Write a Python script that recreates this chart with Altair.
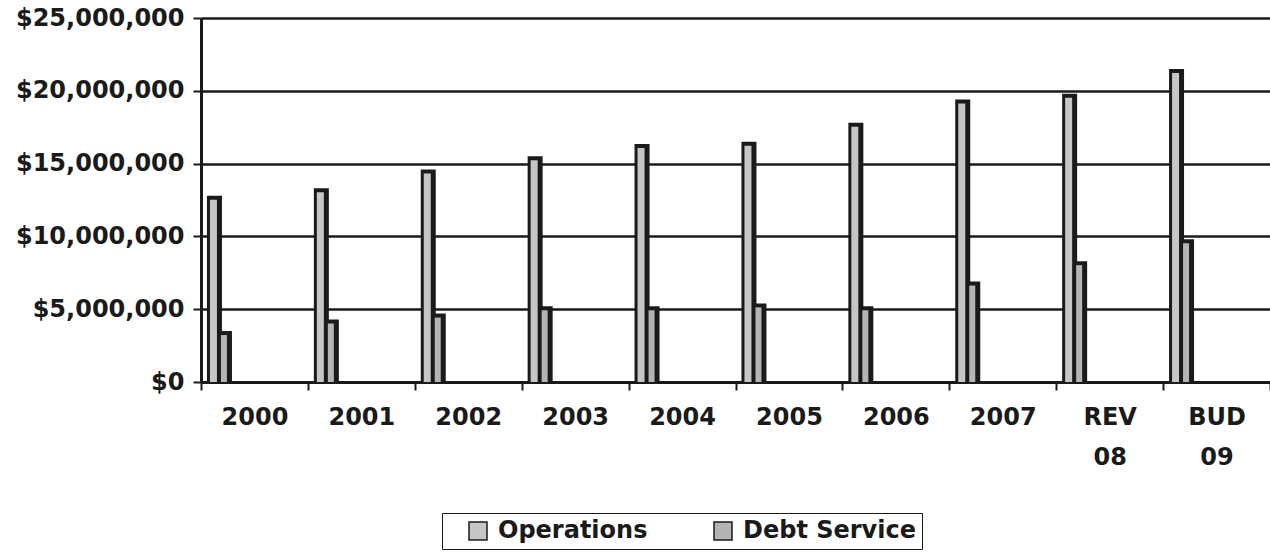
import altair as alt
import pandas as pd

years = ["2000", "2001", "2002", "2003", "2004", "2005", "2006", "2007", "REV 08", "BUD 09"]
operations = [12.8e6, 13.3e6, 14.6e6, 15.5e6, 16.35e6, 16.5e6, 17.8e6, 19.4e6, 19.8e6, 21.5e6]
debt_service = [3.5e6, 4.3e6, 4.7e6, 5.2e6, 5.2e6, 5.4e6, 5.2e6, 6.9e6, 8.3e6, 9.8e6]
series = ["Operations", "Debt Service"]
series_colors = ["#c6c6c6", "#b4b4b4"]
y_ticks = [0, 5000000, 10000000, 15000000, 20000000, 25000000]

df = pd.DataFrame({"Year": years, "Operations": operations, "Debt Service": debt_service})

FONT = "DejaVu Sans"
INK = "#1a1a1a"

base = alt.Chart(df).transform_fold(series, as_=["Series", "Value"])

x = alt.X(
    "Year:N",
    sort=years,
    scale=alt.Scale(paddingInner=0, paddingOuter=0),
    axis=alt.Axis(
        title=None,
        labelAngle=0,
        labelExpr="split(datum.label, ' ')",
        tickBand="extent",
        labelFont=FONT,
        labelFontSize=24,
        labelFontWeight="bold",
        labelColor=INK,
        labelPadding=15,
        labelLineHeight=40,
        tickSize=8,
        tickColor=INK,
        tickWidth=2,
        domainColor=INK,
        domainWidth=3,
        grid=False,
    ),
)

y = alt.Y(
    "Value:Q",
    scale=alt.Scale(domain=[0, 25000000], nice=False),
    axis=alt.Axis(
        title=None,
        values=y_ticks,
        format="$,.0f",
        labelFont=FONT,
        labelFontSize=24,
        labelFontWeight="bold",
        labelColor=INK,
        labelPadding=9,
        tickSize=8,
        tickColor=INK,
        tickWidth=2,
        domainColor=INK,
        domainWidth=3,
        grid=True,
        gridColor=INK,
        gridWidth=2.5,
        gridOpacity=1,
    ),
)

color = alt.Color(
    "Series:N",
    scale=alt.Scale(domain=series, range=series_colors),
    legend=alt.Legend(
        title=None,
        orient="none",
        legendX=241,
        legendY=495,
        direction="horizontal",
        strokeColor=INK,
        fillColor="white",
        padding=6,
        symbolType="square",
        symbolSize=324,
        symbolStrokeColor=INK,
        symbolStrokeWidth=1.5,
        symbolOffset=18,
        labelFont=FONT,
        labelFontSize=24,
        labelFontWeight="bold",
        labelColor=INK,
        labelOffset=8,
        labelLimit=400,
        columnPadding=45,
    ),
)

ops = base.transform_filter("datum.Series == 'Operations'")
debt = base.transform_filter("datum.Series == 'Debt Service'")

ops_dark = ops.mark_bar(width=15, xOffset=-40, color=INK).encode(x=x, y=y)
ops_front = ops.mark_bar(width=7, xOffset=-41, yOffset=4, clip=True).encode(x=x, y=y, color=color)
debt_dark = debt.mark_bar(width=14, xOffset=-29.5, color=INK).encode(x=x, y=y)
debt_front = debt.mark_bar(width=6, xOffset=-30.5, yOffset=4, clip=True).encode(x=x, y=y, color=color)

chart = (
    alt.layer(ops_dark, ops_front, debt_dark, debt_front)
    .properties(
        width=1069,
        height=364,
        autosize=alt.AutoSizeParams(type="none"),
        padding={"left": 201, "top": 18, "right": 0, "bottom": 172},
    )
    .configure_view(stroke=None)
    .configure(background="white")
)

chart.save("out.html", embed_options={"renderer": "svg", "actions": False})
